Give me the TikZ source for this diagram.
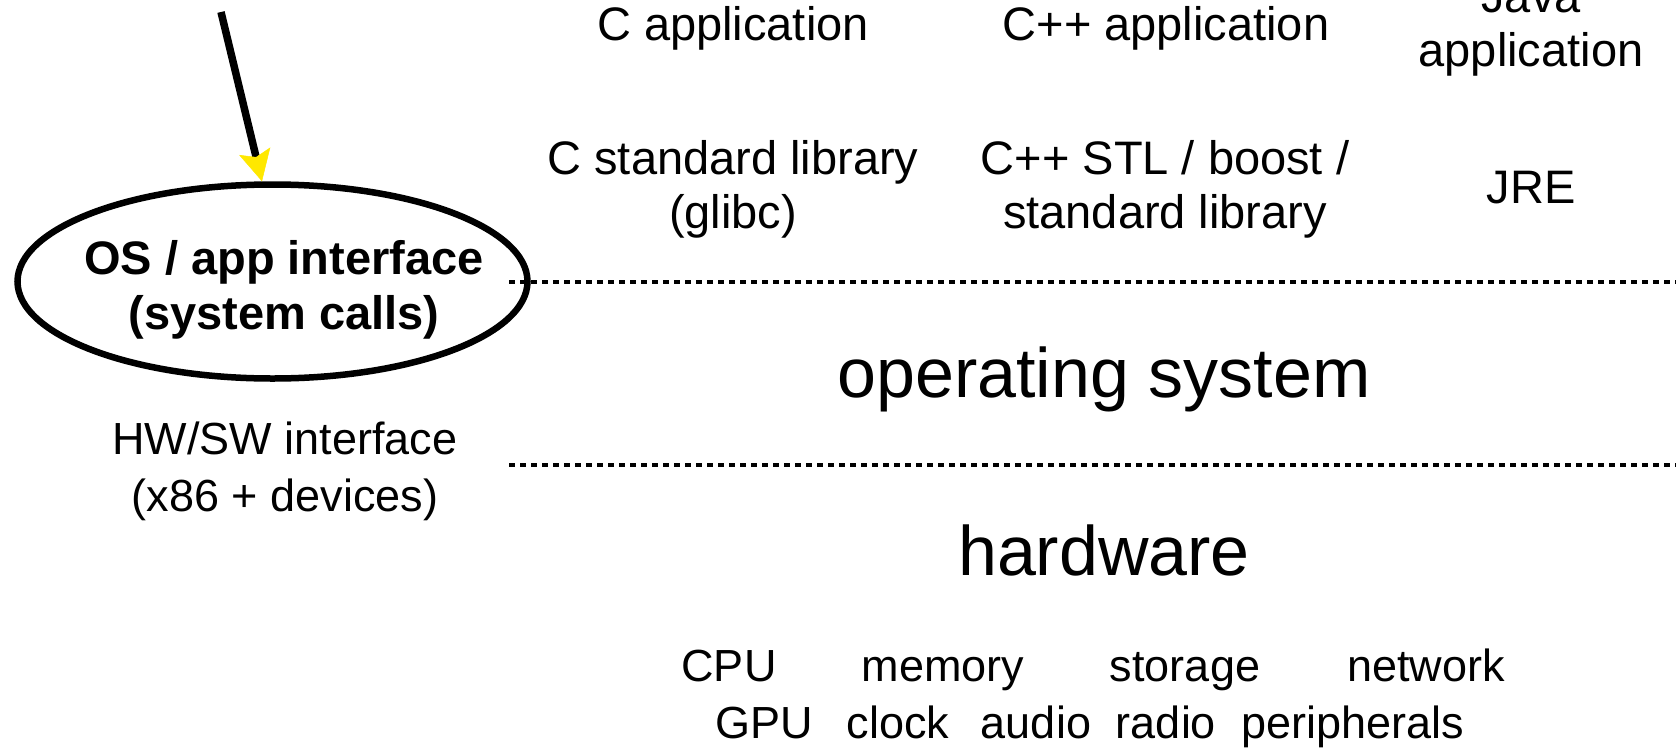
\documentclass[tikz,border=0pt]{standalone}
\usepackage{fontspec}
\setmainfont{Liberation Sans}
\usetikzlibrary{arrows.meta,shapes.geometric}
\definecolor{tipyellow}{RGB}{255,232,0}
\begin{document}
\begin{tikzpicture}[x=1pt,y=-1pt,
  txt/.style={font=\fontsize{47}{54}\selectfont, align=center, anchor=base, inner sep=0pt},
  bigtxt/.style={font=\fontsize{70}{80}\selectfont, anchor=base, inner sep=0pt},
  lighttxt/.style={font=\fontsize{45}{57}\selectfont, align=center, anchor=base, inner sep=0pt},
  boldtxt/.style={font=\fontsize{47}{55}\selectfont\bfseries, align=center, anchor=base, inner sep=0pt},
  oval/.style={draw, ellipse, line width=6.5pt, minimum width=510pt, minimum height=194pt, inner sep=0pt},
  dashline/.style={line width=3.3pt, dash pattern=on 6pt off 5pt},
  callout/.style={line width=7.5pt, -{Stealth[length=31pt, width=32pt, inset=6pt, line width=0.5pt, color=tipyellow, fill=tipyellow]}}
]
\useasboundingbox (0,0) rectangle (1676,747);

% dashed layer separators
\coordinate (d1a) at (509,282);
\coordinate (d1b) at (1676,282);
\coordinate (d2a) at (509,465);
\coordinate (d2b) at (1676,465);
\draw[dashline] (d1a) -- (d1b);
\draw[dashline] (d2a) -- (d2b);

% OS / app interface ellipse
\node[oval] (osapi) at (272.5,281.5) {};
\node[boldtxt] (osapitext) at (284,329) {OS / app interface\\(system calls)};

% arrow
\coordinate (arrowstart) at (221,12);
\draw[callout] (arrowstart) -- (osapi.96.5);

% HW/SW interface
\node[lighttxt] (hwsw) at (285,511) {HW/SW interface\\(x86 + devices)};

% applications
\node[txt] (capp) at (733,40) {C application};
\node[txt] (cppapp) at (1166,40) {C++ application};
\node[txt] (javaapp) at (1531,66) {Java\\application};

% libraries
\node[txt] (clib) at (733,228) {C standard library\\(glibc)};
\node[txt] (cpplib) at (1165,228) {C++ STL / boost /\\standard library};
\node[txt] (jre) at (1531,203) {JRE};

% layers
\node[bigtxt] (os) at (1104,397) {operating system};
\node[bigtxt] (hw) at (1104,575) {hardware};

% hardware components
\node[lighttxt] (cpu) at (729,681) {CPU};
\node[lighttxt] (mem) at (943,681) {memory};
\node[lighttxt] (stor) at (1185,681) {storage};
\node[lighttxt] (net) at (1426,681) {network};
\node[lighttxt] (gpu) at (764,738) {GPU};
\node[lighttxt] (clk) at (898,738) {clock};
\node[lighttxt] (aud) at (1036,738) {audio};
\node[lighttxt] (rad) at (1166,738) {radio};
\node[lighttxt] (per) at (1353,738) {peripherals};
\end{tikzpicture}
\end{document}
